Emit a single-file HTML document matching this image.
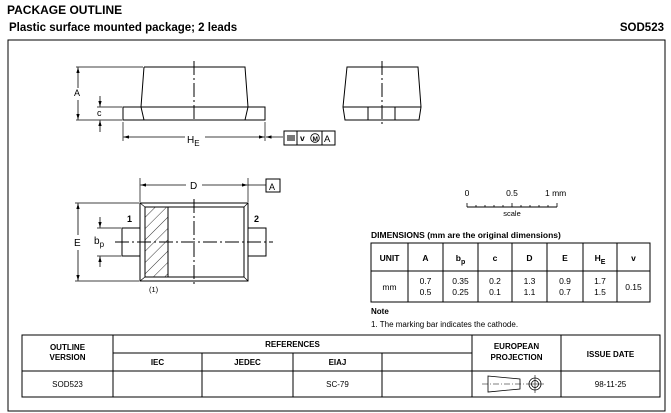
<!DOCTYPE html>
<html><head><meta charset="utf-8"><style>
html,body{margin:0;padding:0;background:#fff;}
svg{display:block;font-family:"Liberation Sans",Arial,sans-serif;}
</style></head><body>
<svg width="671" height="413" viewBox="0 0 671 413" xmlns="http://www.w3.org/2000/svg">
<defs>
<marker id="ar" viewBox="0 0 10 10" refX="10" refY="5" markerWidth="7" markerHeight="7" orient="auto-start-reverse"><path d="M0,2 L10,5 L0,8 z" fill="#000"/></marker>
<pattern id="hatch" width="8" height="8" patternUnits="userSpaceOnUse" patternTransform="rotate(45)"><line x1="0" y1="0" x2="0" y2="8" stroke="#000" stroke-width="0.8"/></pattern>
</defs>
<text x="7" y="14" font-size="12" font-weight="bold">PACKAGE OUTLINE</text>
<text x="9" y="31" font-size="11.5" font-weight="bold">Plastic surface mounted package; 2 leads</text>
<text x="664" y="31" font-size="11.5" font-weight="bold" text-anchor="end">SOD523</text>
<rect x="8" y="40" width="657" height="371" fill="none" stroke="#000" stroke-width="1"/>

<g stroke="#000" fill="none" stroke-width="1">
<!-- side view -->
<rect x="123" y="107" width="142" height="13"/>
<path d="M144,67 L245,67 L248,107 L245,120 M144,67 L141,107 L144,120"/>
<line x1="194" y1="61" x2="194" y2="122" stroke-dasharray="14,3,2,3"/>
<line x1="76" y1="67" x2="143" y2="67" stroke-width="0.7"/>
<line x1="76" y1="120" x2="122" y2="120" stroke-width="0.7"/>
<line x1="97" y1="107" x2="122" y2="107" stroke-width="0.7"/>
<line x1="78" y1="88" x2="78" y2="67.5" marker-end="url(#ar)" stroke-width="0.8"/>
<line x1="78" y1="100" x2="78" y2="119.5" marker-end="url(#ar)" stroke-width="0.8"/>
<line x1="100" y1="96" x2="100" y2="106.5" marker-end="url(#ar)" stroke-width="0.8"/>
<line x1="100" y1="132" x2="100" y2="120.5" marker-end="url(#ar)" stroke-width="0.8"/>
<line x1="123" y1="122" x2="123" y2="141" stroke-width="0.7"/>
<line x1="265" y1="122" x2="265" y2="141" stroke-width="0.7"/>
<line x1="185" y1="137" x2="123.5" y2="137" marker-end="url(#ar)" stroke-width="0.8"/>
<line x1="205" y1="137" x2="264.5" y2="137" marker-end="url(#ar)" stroke-width="0.8"/>
<line x1="283" y1="137" x2="266" y2="137" marker-end="url(#ar)" stroke-width="0.8"/>
<rect x="284" y="131" width="51" height="14"/>
<line x1="297" y1="131" x2="297" y2="145"/>
<line x1="322" y1="131" x2="322" y2="145"/>
<circle cx="315" cy="138" r="4.3" stroke-width="0.8"/>
<!-- right view -->
<path d="M347,67 L418,67 L421,107 L419,120 L345,120 L343,107 Z"/>
<line x1="343" y1="107" x2="421" y2="107"/>
<rect x="368" y="107" width="27" height="13"/>
<line x1="382" y1="61" x2="382" y2="125" stroke-dasharray="14,3,2,3"/>
<!-- top view -->
<rect x="140" y="203" width="108" height="78"/>
<rect x="145" y="207" width="99" height="70"/>
<path d="M140,203 L145,207 M248,203 L244,207 M140,281 L145,277 M248,281 L244,277" stroke-width="0.7"/>
<rect x="145" y="207" width="23" height="70" fill="url(#hatch)"/>
<line x1="168" y1="207" x2="168" y2="277"/>
<rect x="122" y="228" width="18" height="28"/>
<rect x="248" y="228" width="18" height="28"/>
<line x1="194" y1="199" x2="194" y2="286" stroke-dasharray="14,3,2,3"/>
<line x1="115" y1="242" x2="273" y2="242" stroke-dasharray="14,3,2,3"/>
<line x1="140" y1="178" x2="140" y2="202" stroke-width="0.7"/>
<line x1="248" y1="178" x2="248" y2="202" stroke-width="0.7"/>
<line x1="186" y1="185" x2="140.5" y2="185" marker-end="url(#ar)" stroke-width="0.8"/>
<line x1="202" y1="185" x2="247.5" y2="185" marker-end="url(#ar)" stroke-width="0.8"/>
<line x1="248" y1="185" x2="266" y2="185" stroke-width="0.8"/>
<rect x="266" y="179" width="14" height="13"/>
<line x1="75" y1="203" x2="139" y2="203" stroke-width="0.7"/>
<line x1="75" y1="281" x2="139" y2="281" stroke-width="0.7"/>
<line x1="78" y1="235" x2="78" y2="203.5" marker-end="url(#ar)" stroke-width="0.8"/>
<line x1="78" y1="250" x2="78" y2="280.5" marker-end="url(#ar)" stroke-width="0.8"/>
<line x1="97" y1="228" x2="121" y2="228" stroke-width="0.7"/>
<line x1="97" y1="256" x2="121" y2="256" stroke-width="0.7"/>
<line x1="100" y1="217" x2="100" y2="227.5" marker-end="url(#ar)" stroke-width="0.8"/>
<line x1="100" y1="267" x2="100" y2="256.5" marker-end="url(#ar)" stroke-width="0.8"/>
<!-- scale -->
<line x1="467" y1="207" x2="557" y2="207"/>
<path d="M467,203V207M476,205V207M485,205V207M494,205V207M503,205V207M512,203V207M521,205V207M530,205V207M539,205V207M548,205V207M557,203V207" stroke-width="0.8"/>
<!-- dim table -->
<rect x="371" y="243" width="279" height="59"/>
<line x1="371" y1="271" x2="650" y2="271"/>
<path d="M408,243V302M443,243V302M478,243V302M512,243V302M547,243V302M583,243V302M617,243V302"/>
<!-- bottom table -->
<rect x="22" y="335" width="638" height="62"/>
<line x1="22" y1="371" x2="660" y2="371"/>
<line x1="113" y1="353" x2="472" y2="353"/>
<path d="M113,335V397M472,335V397M561,335V397M202,353V397M293,353V397M382,353V397"/>
<!-- projection symbol -->
<path d="M488,376 L520,379 L520,389 L488,392 Z" stroke-width="0.8"/>
<line x1="482" y1="384" x2="524" y2="384" stroke-width="0.6" stroke-dasharray="6,2,1,2"/>
<circle cx="535" cy="384" r="6" stroke-width="0.8"/>
<circle cx="535" cy="384" r="3.5" stroke-width="0.8"/>
<path d="M526,384H544M535,375V393" stroke-width="0.6"/>
</g>

<g font-size="9" fill="#000">
<text x="74" y="96">A</text>
<text x="97" y="116">c</text>
<text x="187" y="143" font-size="10">H<tspan font-size="8" dy="3">E</tspan></text>
<path d="M287,135 h8 v6 h-8z" fill="#777"/>
<text x="300" y="141" font-size="8.5" font-weight="bold">v</text>
<text x="312.5" y="141" font-size="6.5" font-weight="bold">M</text>
<text x="324" y="142" font-size="9.5">A</text>
<text x="190" y="189" font-size="10">D</text>
<text x="269" y="190" font-size="9">A</text>
<text x="74" y="246" font-size="10">E</text>
<text x="94" y="244" font-size="10">b<tspan font-size="8" dy="3">p</tspan></text>
<text x="127" y="222" font-weight="bold">1</text>
<text x="254" y="222" font-weight="bold">2</text>
<text x="149" y="292" font-size="7.5">(1)</text>
<text x="467" y="196" font-size="8.5" text-anchor="middle">0</text>
<text x="512" y="196" font-size="8.5" text-anchor="middle">0.5</text>
<text x="545" y="196" font-size="8.5">1 mm</text>
<text x="512" y="216" font-size="7.5" text-anchor="middle">scale</text>
<text x="371" y="238" font-size="8.5" font-weight="bold">DIMENSIONS (mm are the original dimensions)</text>
<g font-size="8.5" font-weight="bold" text-anchor="middle">
<text x="389.5" y="261">UNIT</text>
<text x="425.5" y="261">A</text>
<text x="460.5" y="261">b<tspan font-size="7" dy="3">p</tspan></text>
<text x="495" y="261">c</text>
<text x="529.5" y="261">D</text>
<text x="565" y="261">E</text>
<text x="600" y="261">H<tspan font-size="7" dy="3">E</tspan></text>
<text x="633.5" y="261">v</text>
</g>
<g font-size="8.5" text-anchor="middle">
<text x="389.5" y="290">mm</text>
<text x="425.5" y="284">0.7</text><text x="425.5" y="295">0.5</text>
<text x="460.5" y="284">0.35</text><text x="460.5" y="295">0.25</text>
<text x="495" y="284">0.2</text><text x="495" y="295">0.1</text>
<text x="529.5" y="284">1.3</text><text x="529.5" y="295">1.1</text>
<text x="565" y="284">0.9</text><text x="565" y="295">0.7</text>
<text x="600" y="284">1.7</text><text x="600" y="295">1.5</text>
<text x="633.5" y="290">0.15</text>
</g>
<text x="371" y="314" font-size="8" font-weight="bold">Note</text>
<text x="371" y="327" font-size="8">1. The marking bar indicates the cathode.</text>
<g font-size="8" font-weight="bold" text-anchor="middle">
<text x="67.5" y="350">OUTLINE</text>
<text x="67.5" y="360">VERSION</text>
<text x="292.5" y="347">REFERENCES</text>
<text x="157.5" y="365">IEC</text>
<text x="247.5" y="365">JEDEC</text>
<text x="337.5" y="365">EIAJ</text>
<text x="516.5" y="349">EUROPEAN</text>
<text x="516.5" y="360">PROJECTION</text>
<text x="610.5" y="357">ISSUE DATE</text>
</g>
<g font-size="8" text-anchor="middle">
<text x="67.5" y="387">SOD523</text>
<text x="337.5" y="387">SC-79</text>
<text x="610.5" y="387">98-11-25</text>
</g>
</g>
</svg>
</body></html>
